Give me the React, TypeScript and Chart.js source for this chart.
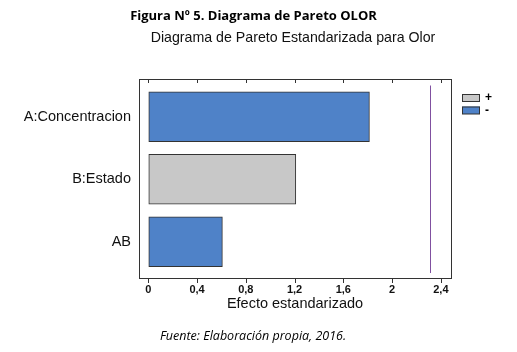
import React, { useEffect, useRef } from "react";
import { Chart, registerables } from "chart.js";

Chart.register(...registerables);

const categories = ["A:Concentracion", "B:Estado", "AB"];
const effects = [1.814, 1.21, 0.608];
const signs = ["-", "+", "-"];
const criticalValue = 2.31;
const xTickValues = [0, 0.4, 0.8, 1.2, 1.6, 2, 2.4];
const xTickLabels = ["0", "0,4", "0,8", "1,2", "1,6", "2", "2,4"];
const legendLabels = ["+", "-"];

const caption = "Figura Nº 5. Diagrama de Pareto OLOR";
const chartTitle = "Diagrama de Pareto Estandarizada para Olor";
const xTitle = "Efecto estandarizado";
const source = "Fuente: Elaboración propia, 2016.";

const BLUE = "#4f82c8";
const GRAY = "#c8c8c8";
const EDGE = "#333333";
const LINE = "#8050a0";

const colorFor = (s: string) => (s === "+" ? GRAY : BLUE);

export default function App() {
  const ref = useRef<HTMLCanvasElement>(null);

  useEffect(() => {
    document.body.style.margin = "0";
    const canvas = ref.current!;
    const decor = {
      id: "decor",
      afterDraw(chart: any) {
        const { ctx, chartArea: a, scales } = chart;
        const xs = scales.x;
        const fTop = a.top - 6.5;
        const fBot = a.bottom + 5;
        ctx.save();
        // frame
        ctx.strokeStyle = EDGE;
        ctx.lineWidth = 1;
        ctx.strokeRect(Math.round(a.left) + 0.5, Math.round(fTop) + 0.5, Math.round(a.right - a.left), Math.round(fBot - fTop));
        // top inner ticks, bottom outer ticks
        ctx.beginPath();
        for (const v of xTickValues) {
          const px = Math.round(xs.getPixelForValue(v)) + 0.5;
          ctx.moveTo(px, Math.round(fTop));
          ctx.lineTo(px, Math.round(fTop) + 4);
          ctx.moveTo(px, Math.round(fBot));
          ctx.lineTo(px, Math.round(fBot) + 5);
        }
        ctx.stroke();
        // critical line
        const lx = Math.round(xs.getPixelForValue(criticalValue)) + 0.5;
        ctx.strokeStyle = LINE;
        ctx.beginPath();
        ctx.moveTo(lx, a.top);
        ctx.lineTo(lx, a.bottom);
        ctx.stroke();
        // legend
        ctx.font = "bold 12px Arial, 'Liberation Sans'";
        ctx.textBaseline = "middle";
        ctx.textAlign = "left";
        legendLabels.forEach((lab, i) => {
          const y = 94 + i * 12.5;
          ctx.fillStyle = colorFor(lab);
          ctx.fillRect(462, y, 18, 7.5);
          ctx.strokeStyle = EDGE;
          ctx.strokeRect(462.5, y + 0.5, 17, 7);
          ctx.fillStyle = "#000";
          ctx.fillText(lab, 485, y + 4);
        });
        // titles
        ctx.textBaseline = "alphabetic";
        ctx.textAlign = "center";
        ctx.fillStyle = "#000";
        ctx.font = "bold 13px 'Open Sans'";
        ctx.fillText(caption, 253.5, 20);
        ctx.fillStyle = "#111";
        ctx.font = "14.2px Arial, 'Liberation Sans'";
        ctx.fillText(chartTitle, 293, 41.7);
        ctx.font = "14.5px Arial, 'Liberation Sans'";
        ctx.fillText(xTitle, (a.left + a.right) / 2, 308);
        ctx.fillStyle = "#000";
        ctx.font = "italic 12.5px 'Open Sans'";
        ctx.fillText(source, 253, 339.5);
        ctx.restore();
      },
    };

    const chart = new Chart(canvas, {
      type: "bar",
      data: {
        labels: categories,
        datasets: [
          {
            data: effects,
            backgroundColor: signs.map(colorFor),
            borderColor: EDGE,
            borderWidth: 1,
            borderSkipped: false,
            barThickness: 50,
          } as any,
        ],
      },
      options: {
        indexAxis: "y",
        animation: false,
        responsive: false,
        layout: { padding: { left: 0, top: 85.5, right: 66, bottom: 0 } },
        plugins: { legend: { display: false }, tooltip: { enabled: false }, title: { display: false } },
        scales: {
          x: {
            type: "linear",
            min: -0.076,
            max: 2.483,
            afterBuildTicks: (axis: any) => {
              axis.ticks = xTickValues.map((v) => ({ value: v }));
            },
            afterFit: (s: any) => {
              s.height = 79;
            },
            ticks: {
              autoSkip: false,
              maxRotation: 0,
              padding: 10,
              color: "#111",
              font: { family: "Arial, 'Liberation Sans'", size: 11, weight: "bold" },
              callback: (v: any) => {
                const i = xTickValues.findIndex((t) => Math.abs(t - v) < 1e-6);
                return i >= 0 ? xTickLabels[i] : "";
              },
            },
            grid: { drawOnChartArea: false, drawTicks: false },
            border: { display: false },
          },
          y: {
            type: "category",
            afterFit: (s: any) => {
              s.width = 139;
            },
            ticks: {
              autoSkip: false,
              padding: 8,
              color: "#111",
              font: { family: "Arial, 'Liberation Sans'", size: 14.5 },
            },
            grid: { display: false, drawTicks: false },
            border: { display: false },
          },
        },
      } as any,
      plugins: [decor],
    });
    return () => chart.destroy();
  }, []);

  return (
    <div style={{ width: 517, height: 352, background: "#fff" }}>
      <canvas ref={ref} width={517} height={352} />
    </div>
  );
}
